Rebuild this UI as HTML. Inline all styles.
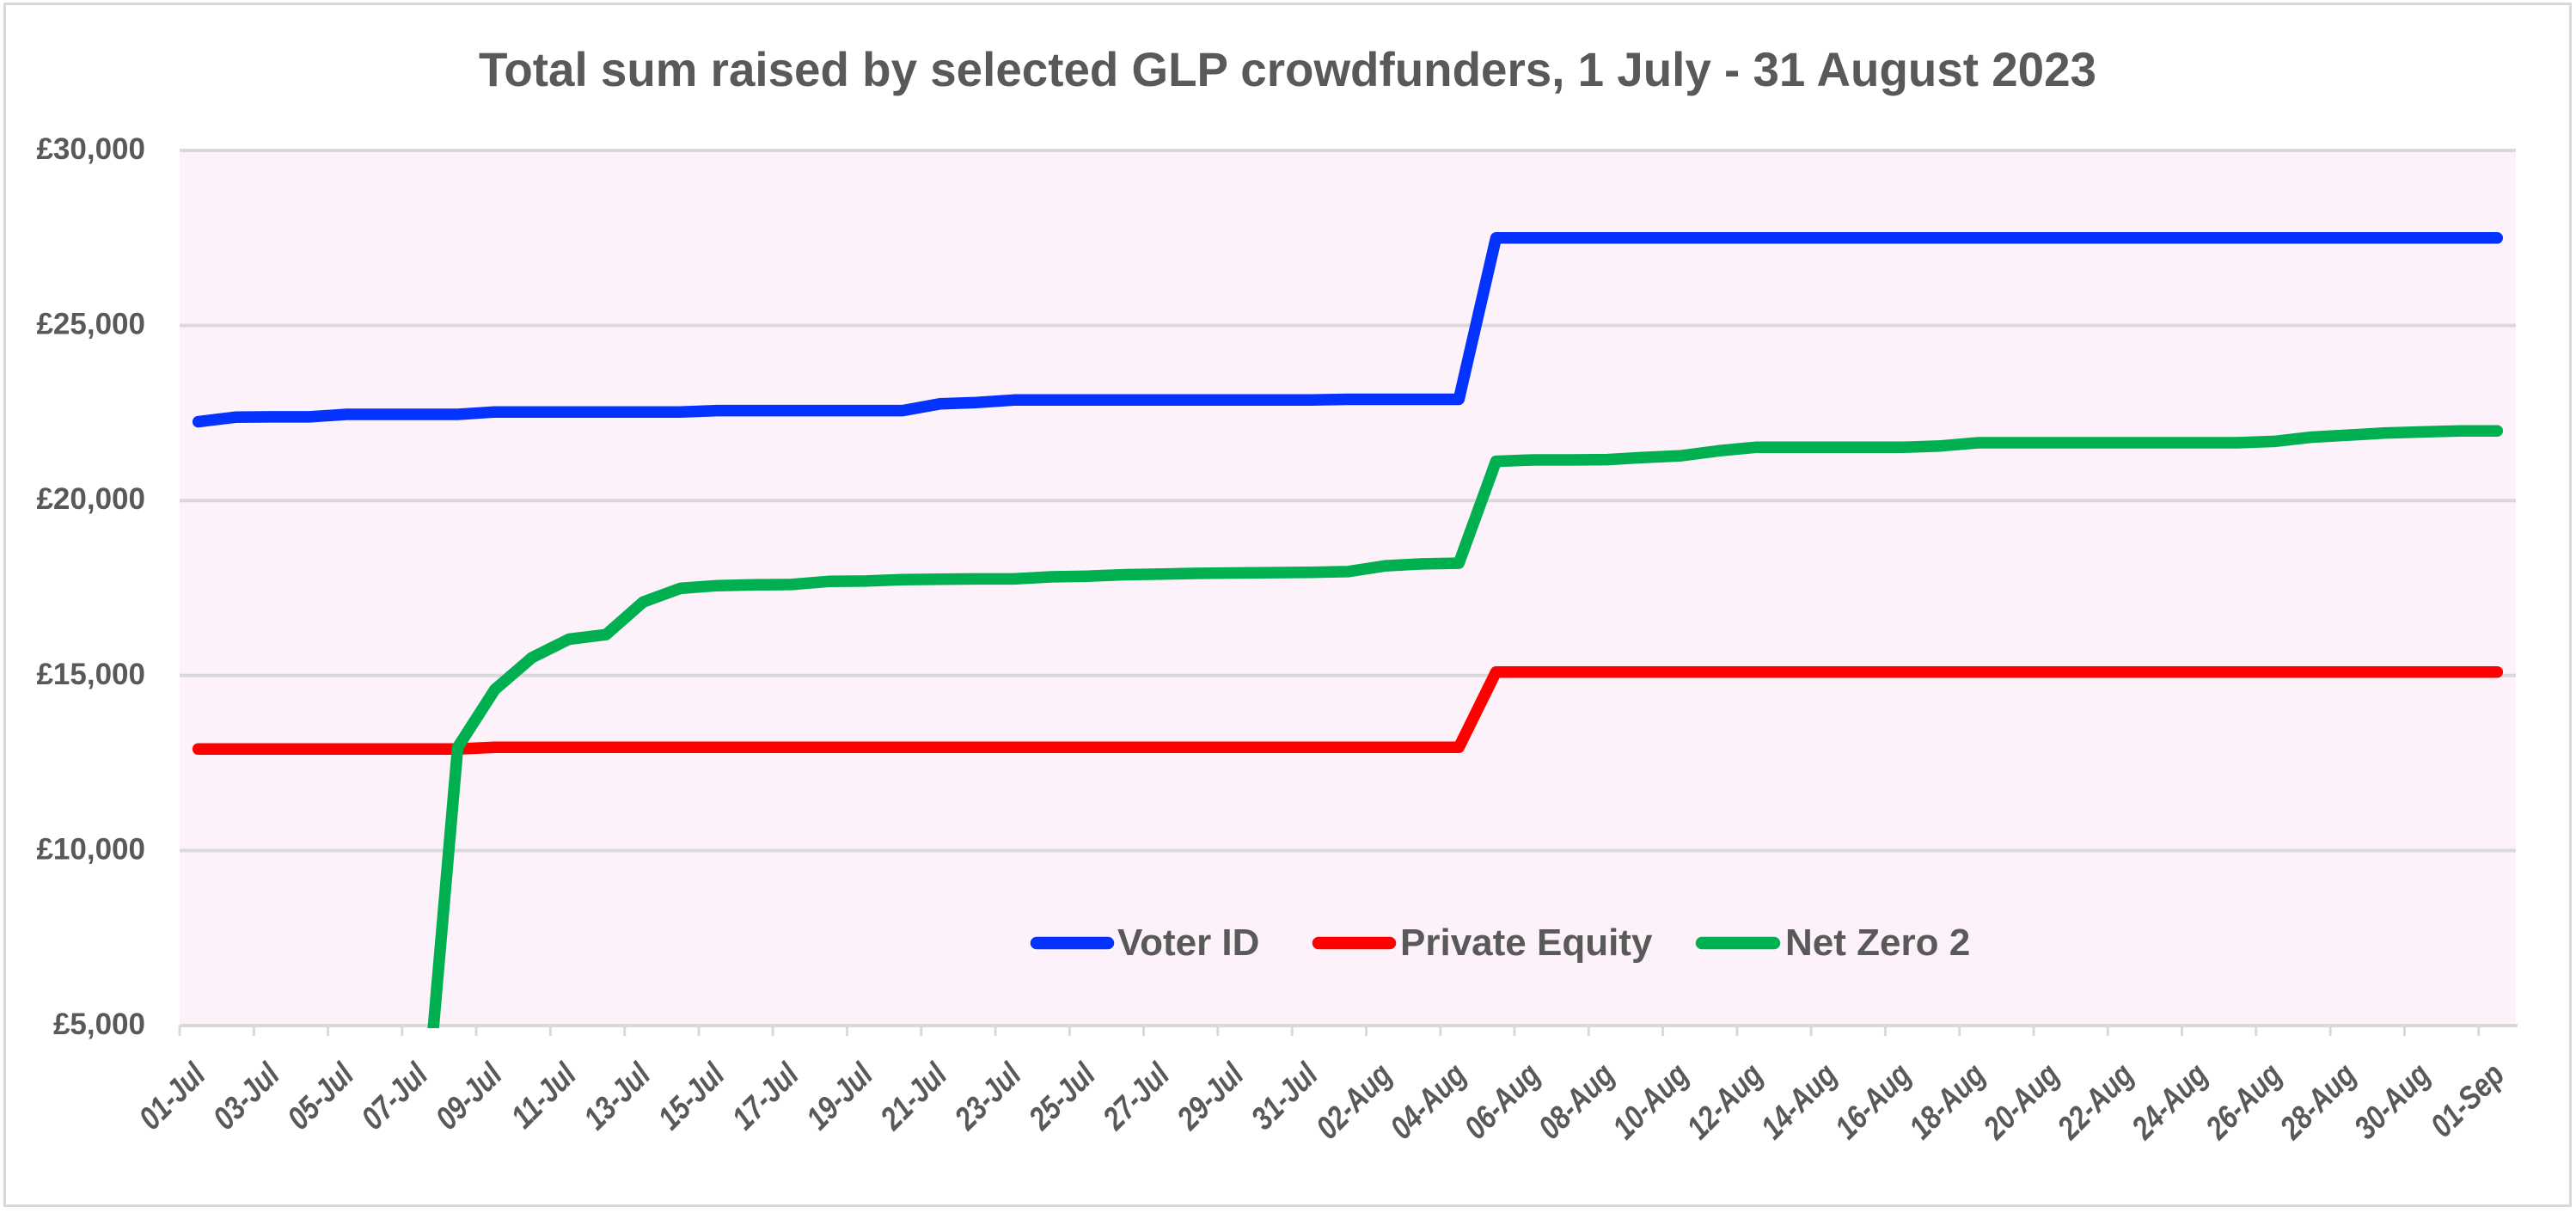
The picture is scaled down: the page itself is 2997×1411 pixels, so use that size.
<!DOCTYPE html>
<html><head><meta charset="utf-8"><style>
html,body{margin:0;padding:0;background:#fff;}
svg{display:block;}
text{font-family:"Liberation Sans",Arial,sans-serif;font-weight:bold;fill:#595959;}
</style></head><body>
<svg width="2997" height="1411" viewBox="0 0 2997 1411" xmlns="http://www.w3.org/2000/svg">
<defs><clipPath id="pc"><rect x="209" y="100" width="2720" height="1096"/></clipPath></defs>
<rect x="0" y="0" width="2997" height="1411" fill="#fff"/>
<rect x="5.5" y="4.5" width="2985" height="1398" fill="#fff" stroke="#d9d9d9" stroke-width="3"/>
<text x="1498" y="100" font-size="56" text-anchor="middle" textLength="1882" lengthAdjust="spacingAndGlyphs">Total sum raised by selected GLP crowdfunders, 1 July - 31 August 2023</text>
<rect x="209" y="175" width="2718" height="1018" fill="#fdf2fa"/>
<g stroke="#d9d9d9" stroke-width="4">
<line x1="209" y1="175" x2="2927" y2="175"/>
<line x1="209" y1="378.6" x2="2927" y2="378.6"/>
<line x1="209" y1="582.2" x2="2927" y2="582.2"/>
<line x1="209" y1="785.8" x2="2927" y2="785.8"/>
<line x1="209" y1="989.4" x2="2927" y2="989.4"/>
<line x1="209" y1="1193" x2="2929" y2="1193"/>
</g>
<g stroke="#d9d9d9" stroke-width="3">
<line x1="209" y1="1193" x2="209" y2="1205"/><line x1="295.3" y1="1193" x2="295.3" y2="1205"/><line x1="381.6" y1="1193" x2="381.6" y2="1205"/><line x1="467.8" y1="1193" x2="467.8" y2="1205"/><line x1="554.1" y1="1193" x2="554.1" y2="1205"/><line x1="640.4" y1="1193" x2="640.4" y2="1205"/><line x1="726.7" y1="1193" x2="726.7" y2="1205"/><line x1="813" y1="1193" x2="813" y2="1205"/><line x1="899.2" y1="1193" x2="899.2" y2="1205"/><line x1="985.5" y1="1193" x2="985.5" y2="1205"/><line x1="1071.8" y1="1193" x2="1071.8" y2="1205"/><line x1="1158.1" y1="1193" x2="1158.1" y2="1205"/><line x1="1244.4" y1="1193" x2="1244.4" y2="1205"/><line x1="1330.6" y1="1193" x2="1330.6" y2="1205"/><line x1="1416.9" y1="1193" x2="1416.9" y2="1205"/><line x1="1503.2" y1="1193" x2="1503.2" y2="1205"/><line x1="1589.5" y1="1193" x2="1589.5" y2="1205"/><line x1="1675.8" y1="1193" x2="1675.8" y2="1205"/><line x1="1762" y1="1193" x2="1762" y2="1205"/><line x1="1848.3" y1="1193" x2="1848.3" y2="1205"/><line x1="1934.6" y1="1193" x2="1934.6" y2="1205"/><line x1="2020.9" y1="1193" x2="2020.9" y2="1205"/><line x1="2107.2" y1="1193" x2="2107.2" y2="1205"/><line x1="2193.4" y1="1193" x2="2193.4" y2="1205"/><line x1="2279.7" y1="1193" x2="2279.7" y2="1205"/><line x1="2366" y1="1193" x2="2366" y2="1205"/><line x1="2452.3" y1="1193" x2="2452.3" y2="1205"/><line x1="2538.6" y1="1193" x2="2538.6" y2="1205"/><line x1="2624.8" y1="1193" x2="2624.8" y2="1205"/><line x1="2711.1" y1="1193" x2="2711.1" y2="1205"/><line x1="2797.4" y1="1193" x2="2797.4" y2="1205"/><line x1="2883.7" y1="1193" x2="2883.7" y2="1205"/>
</g>
<g font-size="35" text-anchor="end">
<text x="169" y="185">£30,000</text>
<text x="169" y="388.6">£25,000</text>
<text x="169" y="592.2">£20,000</text>
<text x="169" y="795.8">£15,000</text>
<text x="169" y="999.4">£10,000</text>
<text x="169" y="1203">£5,000</text>
</g>
<g font-size="38" font-style="italic" text-anchor="end">
<text transform="translate(241,1252.6) rotate(-45) scale(0.82,1)">01-Jul</text>
<text transform="translate(327.3,1252.6) rotate(-45) scale(0.82,1)">03-Jul</text>
<text transform="translate(413.6,1252.6) rotate(-45) scale(0.82,1)">05-Jul</text>
<text transform="translate(499.8,1252.6) rotate(-45) scale(0.82,1)">07-Jul</text>
<text transform="translate(586.1,1252.6) rotate(-45) scale(0.82,1)">09-Jul</text>
<text transform="translate(672.4,1252.6) rotate(-45) scale(0.82,1)">11-Jul</text>
<text transform="translate(758.7,1252.6) rotate(-45) scale(0.82,1)">13-Jul</text>
<text transform="translate(845,1252.6) rotate(-45) scale(0.82,1)">15-Jul</text>
<text transform="translate(931.2,1252.6) rotate(-45) scale(0.82,1)">17-Jul</text>
<text transform="translate(1017.5,1252.6) rotate(-45) scale(0.82,1)">19-Jul</text>
<text transform="translate(1103.8,1252.6) rotate(-45) scale(0.82,1)">21-Jul</text>
<text transform="translate(1190.1,1252.6) rotate(-45) scale(0.82,1)">23-Jul</text>
<text transform="translate(1276.4,1252.6) rotate(-45) scale(0.82,1)">25-Jul</text>
<text transform="translate(1362.6,1252.6) rotate(-45) scale(0.82,1)">27-Jul</text>
<text transform="translate(1448.9,1252.6) rotate(-45) scale(0.82,1)">29-Jul</text>
<text transform="translate(1535.2,1252.6) rotate(-45) scale(0.82,1)">31-Jul</text>
<text transform="translate(1621.5,1252.6) rotate(-45) scale(0.82,1)">02-Aug</text>
<text transform="translate(1707.8,1252.6) rotate(-45) scale(0.82,1)">04-Aug</text>
<text transform="translate(1794,1252.6) rotate(-45) scale(0.82,1)">06-Aug</text>
<text transform="translate(1880.3,1252.6) rotate(-45) scale(0.82,1)">08-Aug</text>
<text transform="translate(1966.6,1252.6) rotate(-45) scale(0.82,1)">10-Aug</text>
<text transform="translate(2052.9,1252.6) rotate(-45) scale(0.82,1)">12-Aug</text>
<text transform="translate(2139.2,1252.6) rotate(-45) scale(0.82,1)">14-Aug</text>
<text transform="translate(2225.4,1252.6) rotate(-45) scale(0.82,1)">16-Aug</text>
<text transform="translate(2311.7,1252.6) rotate(-45) scale(0.82,1)">18-Aug</text>
<text transform="translate(2398,1252.6) rotate(-45) scale(0.82,1)">20-Aug</text>
<text transform="translate(2484.3,1252.6) rotate(-45) scale(0.82,1)">22-Aug</text>
<text transform="translate(2570.6,1252.6) rotate(-45) scale(0.82,1)">24-Aug</text>
<text transform="translate(2656.8,1252.6) rotate(-45) scale(0.82,1)">26-Aug</text>
<text transform="translate(2743.1,1252.6) rotate(-45) scale(0.82,1)">28-Aug</text>
<text transform="translate(2829.4,1252.6) rotate(-45) scale(0.82,1)">30-Aug</text>
<text transform="translate(2915.7,1252.6) rotate(-45) scale(0.82,1)">01-Sep</text>
</g>
<g clip-path="url(#pc)" fill="none" stroke-width="13.5" stroke-linejoin="round" stroke-linecap="round">
<polyline stroke="#0433ff" points="230.6,490.6 273.7,485.3 316.9,484.9 360.0,484.9 403.1,482.0 532.5,482.0 575.7,479.2 791.4,479.2 834.5,477.6 1050.2,477.6 1093.4,469.8 1136.5,468.2 1179.7,465.3 1524.8,465.3 1567.9,464.5 1697.3,464.5 1740.5,276.8 2905.3,276.8"/>
<polyline stroke="#ff0000" points="230.6,871.3 532.5,871.3 575.7,869.3 1697.3,869.3 1740.5,781.7 2905.3,781.7"/>
<polyline stroke="#00b050" points="489.4,1366.1 532.5,869.3 575.7,802.1 618.8,765.0 662.0,743.5 705.1,738.2 748.2,700.3 791.4,684.4 834.5,681.2 877.7,680.3 920.8,679.9 963.9,676.3 1007.1,675.9 1050.2,674.2 1093.4,673.8 1136.5,673.4 1179.7,673.4 1222.8,671.0 1265.9,670.2 1309.1,668.5 1352.2,667.7 1395.3,666.9 1438.5,666.5 1481.6,666.1 1524.8,665.7 1567.9,664.9 1611.0,658.3 1654.2,655.9 1697.3,655.1 1740.5,536.6 1783.6,535.0 1826.8,535.0 1869.9,534.6 1913.0,532.1 1956.2,530.1 1999.3,524.4 2042.5,520.3 2215.0,520.3 2258.2,518.7 2301.3,515.0 2603.3,515.0 2646.4,513.4 2689.5,508.5 2732.7,506.1 2775.8,503.6 2819.0,502.4 2862.1,501.2 2905.3,501.2"/>
</g>
<g stroke-width="14.5" stroke-linecap="round">
<line x1="1206" y1="1097" x2="1289" y2="1097" stroke="#0433ff"/>
<line x1="1534" y1="1097" x2="1617" y2="1097" stroke="#ff0000"/>
<line x1="1980" y1="1097" x2="2064" y2="1097" stroke="#00b050"/>
</g>
<g font-size="44">
<text x="1300" y="1111">Voter ID</text>
<text x="1629" y="1111">Private Equity</text>
<text x="2077" y="1111">Net Zero 2</text>
</g>
</svg>
</body></html>
